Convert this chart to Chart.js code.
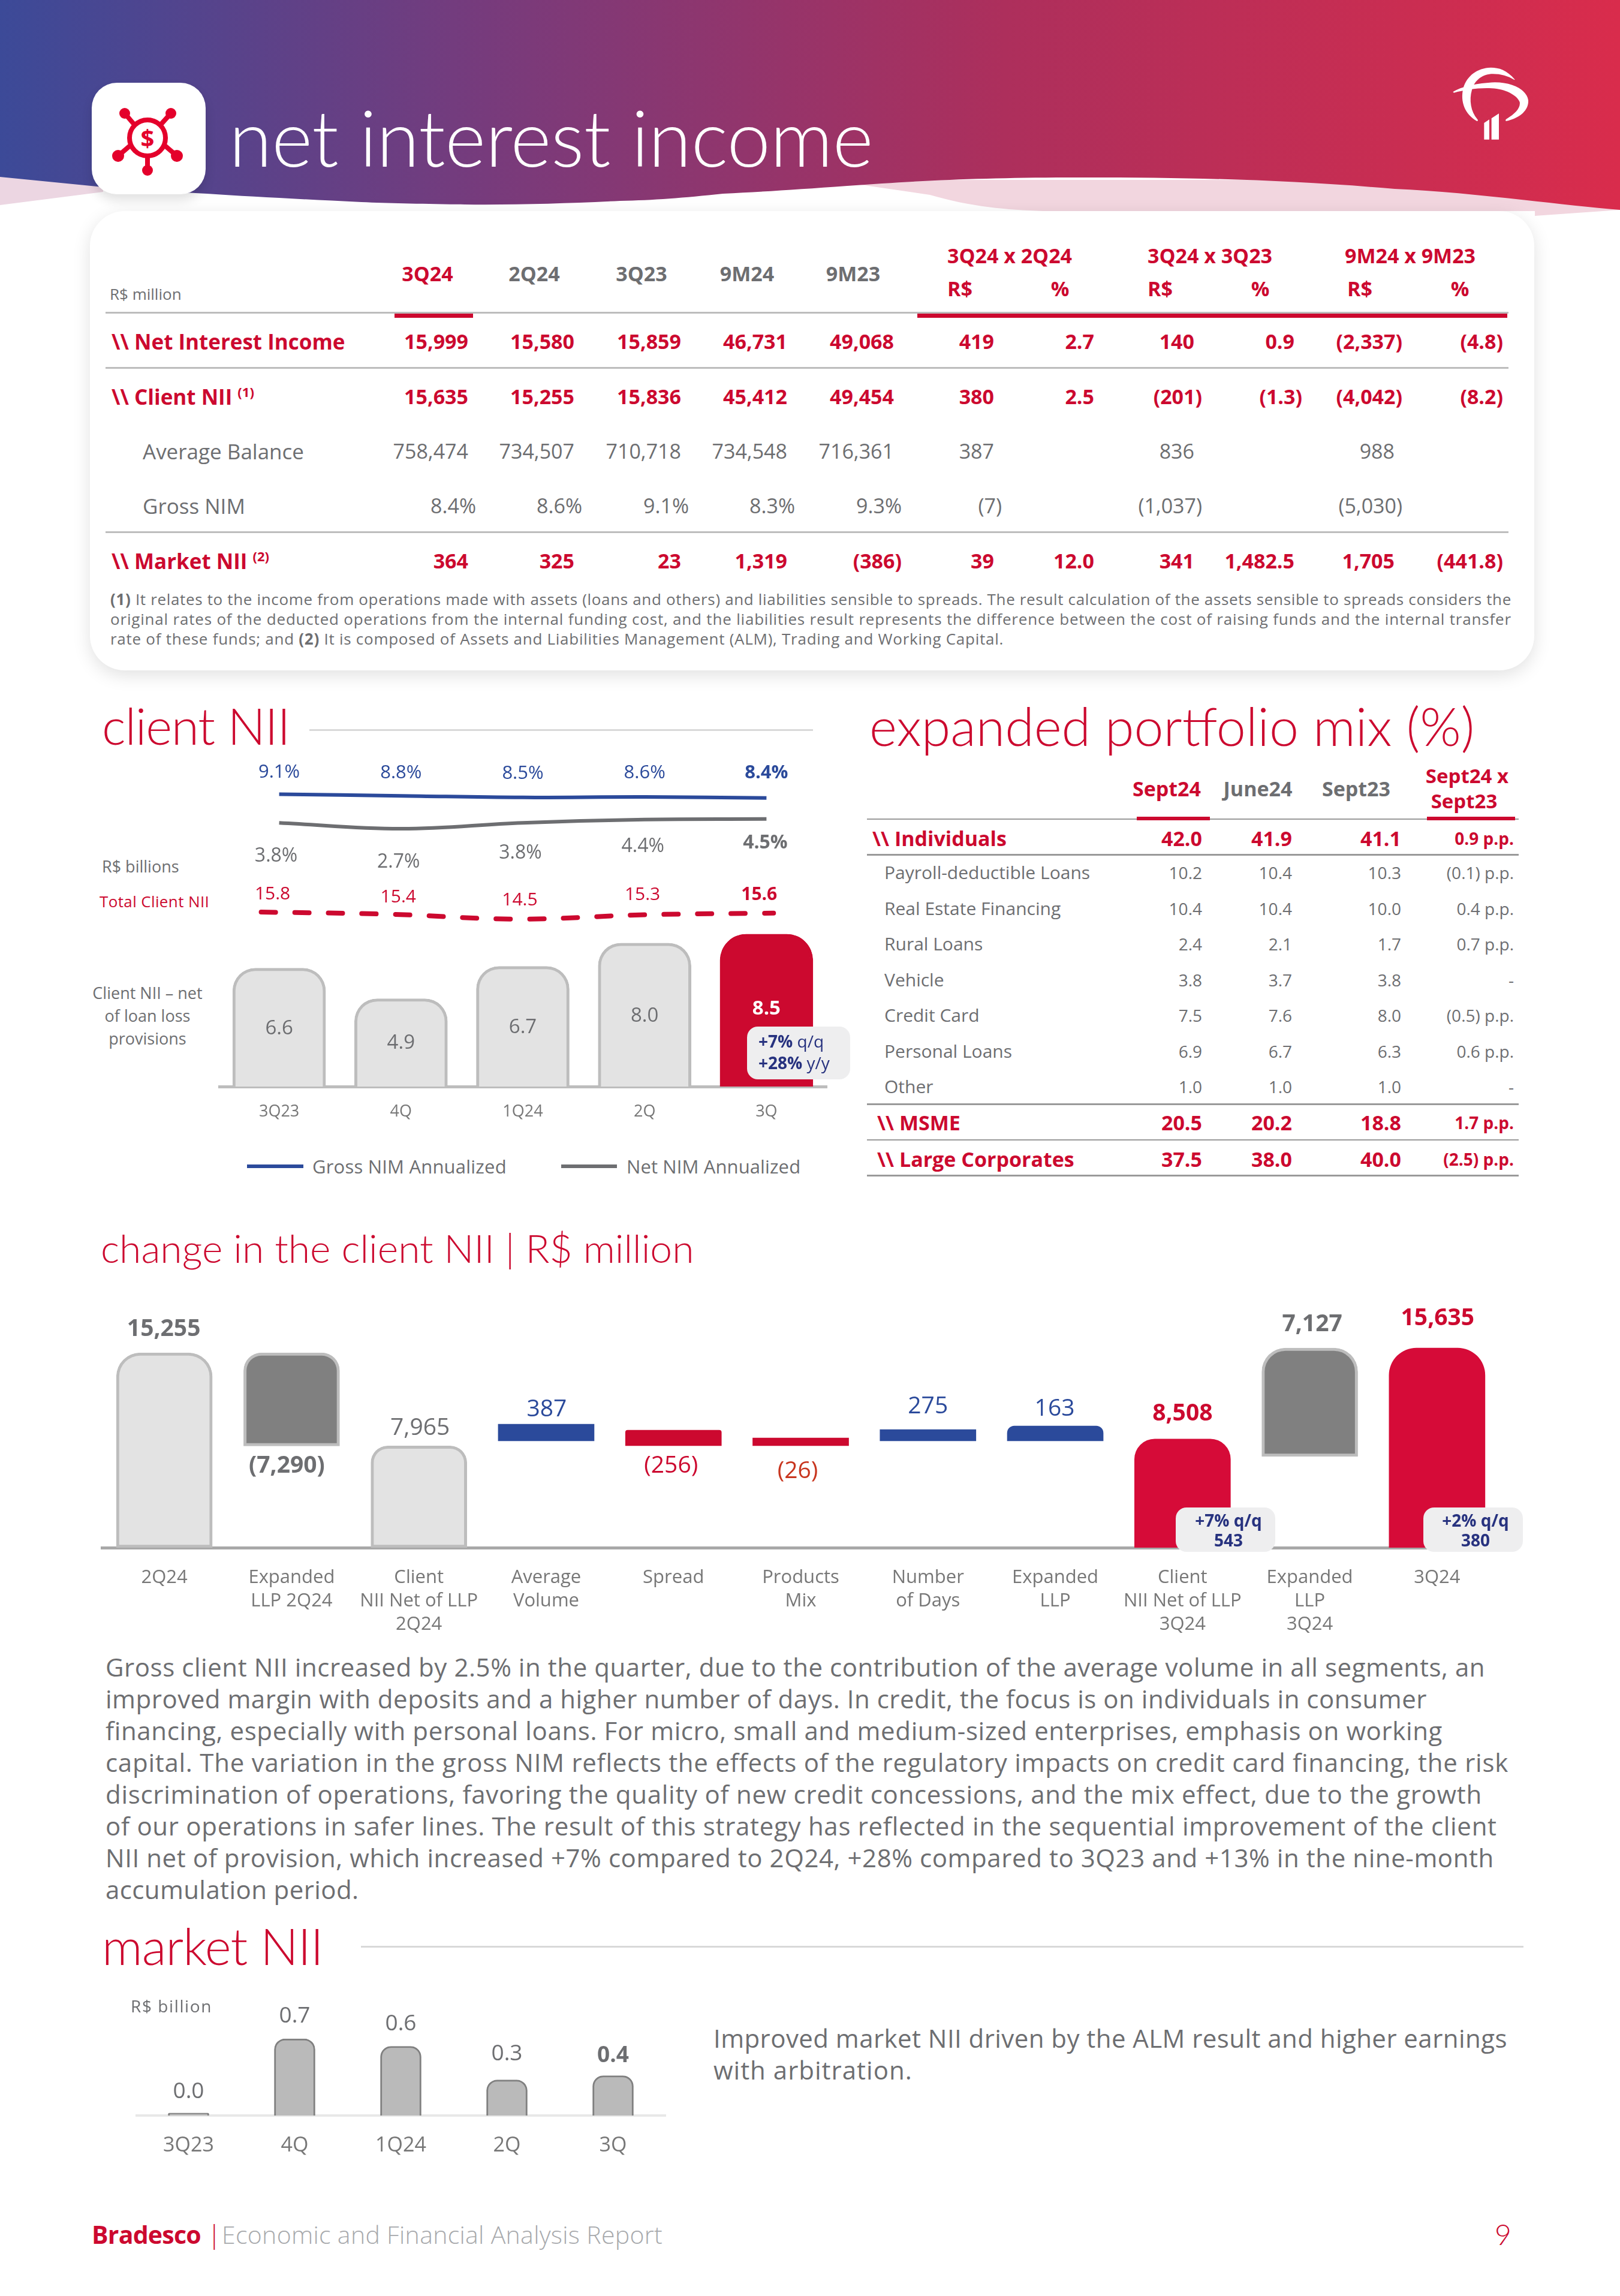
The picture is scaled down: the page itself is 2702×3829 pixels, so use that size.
<!DOCTYPE html>
<html>
<head>
<meta charset="utf-8">
<title>net interest income</title>
<script src="https://cdn.jsdelivr.net/npm/chart.js@4"></script>
<style>
  html, body { margin: 0; padding: 0; background: #fff; }
  #page { position: relative; width: 2702px; height: 3829px; overflow: hidden; background: #fff; font-family: "Open Sans", sans-serif; color: #6d6e71; }
  #page div.t { position: absolute; white-space: nowrap; line-height: 1; }
  canvas { position: absolute; }
  .card { position: absolute; left: 150px; top: 352px; width: 2409px; height: 766px; background: #fff; border-radius: 58px; box-shadow: 0 8px 30px rgba(0,0,0,0.12); }
  .rule { position: absolute; }
  .badge { position: absolute; background: #eeeeef; border-radius: 18px; }
</style>
</head>
<body>
<div id="page">
  <svg width="2702" height="400" style="position:absolute;left:0;top:0">
    <defs>
      <linearGradient id="hdr" x1="0" y1="0" x2="1" y2="0">
        <stop offset="0" stop-color="#3c4a98"/>
        <stop offset="0.3" stop-color="#773b7c"/>
        <stop offset="0.62" stop-color="#ad2f5c"/>
        <stop offset="1" stop-color="#d92c4c"/>
      </linearGradient>
    </defs>
    <path d="M0,290 L172,300 L172,320 L0,342 Z" fill="#ecd6e2"/>
    <path d="M1380,300 L1551,325 C1620,345 1680,350 1740,352 L2560,352 L2560,360 L2702,350 L2702,300 Z" fill="#f2d6df"/>
    <path d="M0,0 H2702 V350 C2600,342 2450,320 2326,315 C2150,300 2000,296 1809,296 C1650,296 1551,300 1413,310 C1330,316 1270,320 1206,323 C1140,330 1090,334 1034,335 C950,339 860,342 775,341 C700,340 650,339 603,337 C500,332 420,328 345,323 C280,320 220,316 172,312 L0,295 Z" fill="url(#hdr)"/>
  </svg>
  <div style="position:absolute;left:153px;top:138px;width:190px;height:186px;background:#fff;border-radius:42px;box-shadow:0 10px 18px rgba(0,0,0,0.12)"></div>
  <svg width="190" height="186" style="position:absolute;left:153px;top:138px" fill="none" stroke="#e4002b" stroke-width="8">
    <circle cx="93" cy="92" r="30"/>
    <path d="M93,122 V146 M72,71 L55,51 M114,71 L132,51 M65,104 L44,122 M121,104 L142,122"/>
    <g fill="#e4002b" stroke="none">
      <circle cx="55" cy="51" r="9"/><circle cx="132" cy="51" r="9"/>
      <circle cx="44" cy="122" r="10"/><circle cx="142" cy="122" r="10"/>
      <circle cx="93" cy="146" r="9"/>
    </g>
    <text x="93" y="107" text-anchor="middle" font-family="Open Sans" font-weight="700" font-size="40" fill="#e4002b" stroke="none">$</text>
  </svg>
  <svg width="170" height="170" viewBox="0 0 510 510" style="position:absolute;left:2400px;top:90px" fill="#fff">
    <path d="M380,128 C340,80 300,68 260,68 C190,70 140,110 122,170 C105,240 130,300 190,336 C196,336 196,330 192,326 C160,290 150,230 165,180 C178,130 220,100 270,100 C310,100 345,110 378,130 Z"/>
    <path d="M70,190 C110,165 190,145 280,142 C370,142 440,180 447,232 C450,285 400,322 335,336 C332,330 335,326 340,324 C380,300 410,270 404,240 C390,205 330,175 265,172 C200,168 130,180 75,194 Z"/>
    <path d="M226,428 V345 L252,328 V428 Z M263,428 V322 L300,298 V428 Z"/>
  </svg>
  <div class="card"></div>
  <canvas id="clientChart" style="left:364px;top:1250px"></canvas>
  <canvas id="waterfallChart" style="left:168px;top:2150px"></canvas>
  <canvas id="marketChart" style="left:226px;top:3340px"></canvas>
</div>
<script>
var page = document.getElementById("page");

// colours of the report
var RED = "#cc092f";
var BLUE = "#2b4a9b";
var GRAY = "#6d6e71";
var FONT = "Open Sans";
var TITLE_FONT = "Lato";

// main table
var mainCols = ["3Q24", "2Q24", "3Q23", "9M24", "9M23"];
var mainGroups = ["3Q24 x 2Q24", "3Q24 x 3Q23", "9M24 x 9M23"];
var netInterestIncome = ["15,999", "15,580", "15,859", "46,731", "49,068", "419", "2.7", "140", "0.9", "(2,337)", "(4.8)"];
var clientNiiRow = ["15,635", "15,255", "15,836", "45,412", "49,454", "380", "2.5", "(201)", "(1.3)", "(4,042)", "(8.2)"];
var averageBalance = ["758,474", "734,507", "710,718", "734,548", "716,361", "387", "", "836", "", "988", ""];
var grossNim = ["8.4%", "8.6%", "9.1%", "8.3%", "9.3%", "(7)", "", "(1,037)", "", "(5,030)", ""];
var marketNiiRow = ["364", "325", "23", "1,319", "(386)", "39", "12.0", "341", "1,482.5", "1,705", "(441.8)"];

// client NII chart
var clientQuarters = ["3Q23", "4Q", "1Q24", "2Q", "3Q"];
var clientNetOfProvisions = [6.6, 4.9, 6.7, 8.0, 8.5];
var grossNimAnnualized = [9.1, 8.8, 8.5, 8.6, 8.4];
var netNimAnnualized = [3.8, 2.7, 3.8, 4.4, 4.5];
var totalClientNii = [15.8, 15.4, 14.5, 15.3, 15.6];

// expanded portfolio mix
var mixCols = ["Sept24", "June24", "Sept23"];
var mixRows = [
  ["Individuals", "42.0", "41.9", "41.1", "0.9 p.p."],
  ["Payroll-deductible Loans", "10.2", "10.4", "10.3", "(0.1) p.p."],
  ["Real Estate Financing", "10.4", "10.4", "10.0", "0.4 p.p."],
  ["Rural Loans", "2.4", "2.1", "1.7", "0.7 p.p."],
  ["Vehicle", "3.8", "3.7", "3.8", "-"],
  ["Credit Card", "7.5", "7.6", "8.0", "(0.5) p.p."],
  ["Personal Loans", "6.9", "6.7", "6.3", "0.6 p.p."],
  ["Other", "1.0", "1.0", "1.0", "-"],
  ["MSME", "20.5", "20.2", "18.8", "1.7 p.p."],
  ["Large Corporates", "37.5", "38.0", "40.0", "(2.5) p.p."]
];

// change in the client NII. Printed values, and the range each bar covers
var bridgeCategories = [["2Q24"], ["Expanded", "LLP 2Q24"], ["Client", "NII Net of LLP", "2Q24"], ["Average", "Volume"], ["Spread"], ["Products", "Mix"], ["Number", "of Days"], ["Expanded", "LLP"], ["Client", "NII Net of LLP", "3Q24"], ["Expanded", "LLP", "3Q24"], ["3Q24"]];
var bridgePrinted = ["15,255", "(7,290)", "7,965", "387", "(256)", "(26)", "275", "163", "8,508", "7,127", "15,635"];
var bridgeFrom = [0, 7965, 0, 8357, 7981, 7981, 8357, 8357, 0, 7136, 0];
var bridgeTo = [15255, 15255, 7965, 9671, 9202, 8592, 9249, 9531, 8508, 15635, 15635];

// market NII
var marketQuarters = ["3Q23", "4Q", "1Q24", "2Q", "3Q"];
var marketNii = [0.023, 0.7, 0.632, 0.325, 0.364];

var paragraph = [
  "Gross client NII increased by 2.5% in the quarter, due to the contribution of the average volume in all segments, an",
  "improved margin with deposits and a higher number of days. In credit, the focus is on individuals in consumer",
  "financing, especially with personal loans. For micro, small and medium-sized enterprises, emphasis on working",
  "capital. The variation in the gross NIM reflects the effects of the regulatory impacts on credit card financing, the risk",
  "discrimination of operations, favoring the quality of new credit concessions, and the mix effect, due to the growth",
  "of our operations in safer lines. The result of this strategy has reflected in the sequential improvement of the client",
  "NII net of provision, which increased +7% compared to 2Q24, +28% compared to 3Q23 and +13% in the nine-month",
  "accumulation period."
];

// text helper. y is the middle of the line, align is left, center or right
function put(x, y, text, size, color, weight, align, fitWidth, family) {
  var d = document.createElement("div");
  d.className = "t";
  d.innerHTML = text;
  d.style.left = x + "px";
  d.style.top = y + "px";
  d.style.fontSize = size + "px";
  d.style.color = color || GRAY;
  d.style.fontWeight = weight || 400;
  if (family) d.style.fontFamily = family;
  var tx = align == "right" ? "-100%" : align == "center" ? "-50%" : "0";
  d.style.transform = "translate(" + tx + ",-50%)";
  page.appendChild(d);
  if (fitWidth) {
    var n = d.textContent.length;
    d.style.letterSpacing = ((fitWidth - d.offsetWidth) / n) + "px";
  }
  return d;
}

function rule(x1, x2, y, h, color) {
  var d = document.createElement("div");
  d.className = "rule";
  d.style.left = x1 + "px";
  d.style.width = (x2 - x1) + "px";
  d.style.top = y + "px";
  d.style.height = h + "px";
  d.style.background = color;
  page.appendChild(d);
}

// header
put(382, 228, "net interest income", 130, "#fff", 300, "left", 1074, TITLE_FONT);

// main table
put(183, 490, "R$ million", 26, GRAY, 400);
var mainHead = [713, 891, 1070, 1246, 1423];
mainCols.forEach(function (c, i) {
  put(mainHead[i], 456, c, 34, i == 0 ? RED : GRAY, 700, "center");
});
var groupCenter = [1684, 2018, 2352];
mainGroups.forEach(function (g, i) {
  put(groupCenter[i], 426, g, 34, RED, 700, "center");
});
[1601, 1935, 2268].forEach(function (x) { put(x, 481, "R$", 34, RED, 700, "center"); });
[1768, 2102, 2435].forEach(function (x) { put(x, 481, "%", 34, RED, 700, "center"); });

rule(176, 2516, 520, 3, "#bdbdbd");
rule(658, 789, 523, 7, RED);
rule(1530, 2514, 523, 7, RED);
rule(176, 2516, 612, 3, "#bdbdbd");
rule(176, 2516, 886, 3, "#bdbdbd");

var mainRight = [781, 958, 1136, 1313, 1491, 1658, 1825, 1992, 2159, 2326, 2494];
function mainRow(y, label, labelX, values, color, weight) {
  put(labelX, y, label, 35, color, weight);
  values.forEach(function (v, i) {
    var hang = /[)%]$/.test(v) ? 13 : 0;
    put(mainRight[i] + hang, y, v, 34, color, weight, "right");
  });
}
mainRow(569, "\\\\ Net Interest Income", 186, netInterestIncome, RED, 700);
mainRow(661, "\\\\ Client NII <sup style='font-size:22px;line-height:0'>(1)</sup>", 186, clientNiiRow, RED, 700);
mainRow(752, "Average Balance", 238, averageBalance, GRAY, 400);
mainRow(843, "Gross NIM", 238, grossNim, GRAY, 400);
mainRow(935, "\\\\ Market NII <sup style='font-size:22px;line-height:0'>(2)</sup>", 186, marketNiiRow, RED, 700);

put(184, 999, "<b>(1)</b> It relates to the income from operations made with assets (loans and others) and liabilities sensible to spreads. The result calculation of the assets sensible to spreads considers the", 26, GRAY, 400, "left", 2337);
put(184, 1032, "original rates of the deducted operations from the internal funding cost, and the liabilities result represents the difference between the cost of raising funds and the internal transfer", 26, GRAY, 400, "left", 2337);
put(184, 1065, "rate of these funds; and <b>(2)</b> It is composed of Assets and Liabilities Management (ALM), Trading and Working Capital.", 26, GRAY, 400, "left", 1490);

// client NII texts
put(170, 1210, "client NII", 84, RED, 300, "left", 313, TITLE_FONT);
rule(516, 1356, 1216, 3, "#d9d9d9");
put(170, 1444, "R$ billions", 27, GRAY, 400, "left", 129);
put(166, 1503, "Total Client NII", 26, RED, 400, "left", 183);
put(246, 1655, "Client NII – net", 27, GRAY, 400, "center");
put(246, 1693, "of loan loss", 27, GRAY, 400, "center");
put(246, 1731, "provisions", 27, GRAY, 400, "center");

// legend of the client chart
rule(412, 506, 1942, 6, BLUE);
put(521, 1945, "Gross NIM Annualized", 31, GRAY, 400, "left", 324);
rule(936, 1029, 1942, 6, GRAY);
put(1045, 1945, "Net NIM Annualized", 31, GRAY, 400, "left", 290);

// expanded portfolio mix
put(1450, 1210, "expanded portfolio mix (%)", 88, RED, 300, "left", 1010, TITLE_FONT);
var mixHead = [1946, 2098, 2262];
mixCols.forEach(function (c, i) {
  put(mixHead[i], 1315, c, 34, i == 0 ? RED : GRAY, 700, "center");
});
put(2447, 1293, "Sept24 x", 33, RED, 700, "center");
put(2442, 1335, "Sept23", 33, RED, 700, "center");
rule(1446, 2533, 1365, 2, "#9a9a9a");
rule(1896, 2018, 1362, 6, RED);
rule(2380, 2527, 1362, 6, RED);
rule(1446, 2533, 1424, 3, "#9a9a9a");
rule(1446, 2533, 1840, 3, "#9a9a9a");
rule(1446, 2533, 1900, 2, "#9a9a9a");
rule(1446, 2533, 1959, 3, "#9a9a9a");

var mixY = [1398, 1455, 1515, 1574, 1634, 1693, 1753, 1812, 1872, 1933];
var mixRight = [2005, 2155, 2337, 2525];
mixRows.forEach(function (r, i) {
  var main = i == 0 || i >= 8;
  if (main) {
    put(i == 0 ? 1455 : 1463, mixY[i], "\\\\ " + r[0], 34, RED, 700);
  } else {
    put(1475, mixY[i], r[0], 30, GRAY, 400);
  }
  for (var c = 0; c < 4; c++) {
    var sz = main ? (c == 3 ? 28 : 34) : 28;
    put(mixRight[c], mixY[i], r[c + 1], sz, main ? RED : GRAY, main ? 700 : 400, "right");
  }
});

// bridge texts
put(168, 2081, "change in the client NII | R$ million", 66, RED, 300, "left", 989, TITLE_FONT);

paragraph.forEach(function (line, i) {
  var ends = [2477, 2380, 2406, 2516, 2472, 2497, 2492, 598];
  put(176, 2780 + i * 53, line, 42, GRAY, 400, "left", ends[i] - 176);
});

// market NII texts
put(170, 3245, "market NII", 84, RED, 300, "left", 369, TITLE_FONT);
rule(602, 2541, 3245, 3, "#d9d9d9");
put(218, 3345, "R$ billion", 28, GRAY, 400, "left", 136);
put(1190, 3399, "Improved market NII driven by the ALM result and higher earnings", 42, GRAY, 400, "left", 1324);
put(1190, 3452, "with arbitration.", 42, GRAY, 400, "left", 332);

// footer
put(153, 3726, "Bradesco", 41, RED, 700, "left", 182);
put(346, 3726, "|", 42, RED, 300);
put(370, 3726, "Economic and Financial Analysis Report", 41, "#a7a9ac", 300, "left", 735);
put(2507, 3726, "9", 48, RED, 300, "center", 0, TITLE_FONT);

// value labels, one list per chart
function valueLabels(id, lists) {
  return {
    id: id,
    afterDatasetsDraw: function (chart) {
      var ctx = chart.ctx;
      ctx.save();
      ctx.textAlign = "center";
      ctx.textBaseline = "middle";
      lists.forEach(function (l) {
        chart.getDatasetMeta(l.dataset).data.forEach(function (el, i) {
          var y = el.y - l.up[i];
          if (l.mid) y = (el.y + el.base) / 2 + l.up[i];
          else if (l.up[i] < 0 && el.base !== undefined) y = el.base - l.up[i];
          var w = l.weight ? l.weight[i] : 400;
          ctx.font = w + " " + (l.size || 30) + "px '" + FONT + "'";
          ctx.fillStyle = l.color[i];
          ctx.fillText(l.text[i], el.x + (l.dx ? l.dx[i] : 0), y);
        });
      });
      ctx.restore();
    }
  };
}

function topRadius(r) {
  return function (ctx) {
    var v = r[ctx.dataIndex];
    return { topLeft: v, topRight: v, bottomLeft: 0, bottomRight: 0 };
  };
}

function fixedAxisHeight(h) {
  return function (scale) { scale.height = h; };
}

function sizeCanvas(id, w, h) {
  var c = document.getElementById(id);
  c.width = w;
  c.height = h;
  c.style.width = w + "px";
  c.style.height = h + "px";
  return c;
}

Chart.defaults.font.family = FONT;
Chart.defaults.animation = false;

var ctx1 = sizeCanvas("clientChart", 1016, 630);
new Chart(ctx1, {
  type: "bar",
  data: {
    labels: clientQuarters,
    datasets: [{
      type: "line",
      label: "Gross NIM Annualized",
      data: grossNimAnnualized,
      yAxisID: "yPct",
      borderColor: BLUE,
      borderWidth: 6,
      pointRadius: 0,
      tension: 0.4,
      order: 1
    }, {
      type: "line",
      label: "Net NIM Annualized",
      data: netNimAnnualized,
      yAxisID: "yPct",
      borderColor: GRAY,
      borderWidth: 6,
      pointRadius: 0,
      tension: 0.4,
      order: 1
    }, {
      type: "line",
      label: "Total Client NII",
      data: totalClientNii.map(function (v, i) { return { x: i, y: v }; }),
      xAxisID: "xTotal",
      yAxisID: "yTotal",
      borderColor: RED,
      borderWidth: 8,
      borderDash: [24, 32],
      borderCapStyle: "round",
      pointRadius: 0,
      tension: 0.4,
      order: 1
    }, {
      type: "bar",
      label: "Client NII - net of loan loss provisions",
      data: clientNetOfProvisions,
      yAxisID: "y",
      backgroundColor: ["#e3e3e3", "#e3e3e3", "#e3e3e3", "#e3e3e3", RED],
      borderColor: ["#bdbdbd", "#bdbdbd", "#bdbdbd", "#bdbdbd", RED],
      borderWidth: 5,
      borderRadius: topRadius([38, 38, 38, 38, 44]),
      grouped: false,
      barThickness: 155,
      maxBarThickness: 155,
      order: 2
    }]
  },
  options: {
    responsive: false,
    maintainAspectRatio: false,
    layout: { padding: 0 },
    plugins: { legend: { display: false }, tooltip: { enabled: false } },
    scales: {
      x: {
        offset: true,
        grid: { display: false, drawTicks: false, offset: true },
        border: { display: true, color: "#bdbdbd", width: 5 },
        ticks: { color: "#777", font: { size: 27 }, padding: 26 },
        afterFit: fixedAxisHeight(68)
      },
      xTotal: { type: "linear", display: false, offset: false, min: -0.335, max: 4.42 },
      y: { display: false, min: 0, max: 18.796 },
      yPct: { display: false, min: -45.07, max: 17.37 },
      yTotal: { display: false, min: -16.53, max: 45.91 }
    }
  },
  plugins: [valueLabels("clientLabels", [
    { dataset: 0, text: grossNimAnnualized.map(function (v) { return v.toFixed(1) + "%"; }), up: [36, 38, 40, 40, 42], color: [BLUE, BLUE, BLUE, BLUE, BLUE], weight: [400, 400, 400, 400, 700], size: 31 },
    { dataset: 1, text: netNimAnnualized.map(function (v) { return v.toFixed(1) + "%"; }), up: [-56, -56, -51, -45, -40], color: [GRAY, GRAY, GRAY, GRAY, GRAY], weight: [400, 400, 400, 400, 700], size: 32, dx: [-5, -4, -4, -3, -2] },
    { dataset: 2, text: totalClientNii.map(function (v) { return v.toFixed(1); }), up: [30, 28, 31, 33, 30], dx: [19, 15, 4, -5, -24], color: [RED, RED, RED, RED, RED], weight: [400, 400, 400, 400, 700], size: 30 },
    { dataset: 3, text: clientNetOfProvisions.map(function (v) { return v.toFixed(1); }), up: [2, 1, 2, 2, -2], mid: true, color: [GRAY, GRAY, GRAY, GRAY, "#fff"], weight: [400, 400, 400, 400, 700], size: 33 }
  ])]
});

var ctx2 = sizeCanvas("waterfallChart", 2335, 600);
var bridgeFill = ["#e3e3e3", "#808080", "#e3e3e3", BLUE, RED, RED, BLUE, BLUE, "#d60b38", "#808080", "#d60b38"];
var bridgeLine = ["#bdbdbd", "#bdbdbd", "#bdbdbd", BLUE, RED, RED, BLUE, BLUE, "#d60b38", "#bdbdbd", "#d60b38"];
new Chart(ctx2, {
  type: "bar",
  data: {
    labels: bridgeCategories,
    datasets: [{
      label: "change in the client NII",
      data: bridgeFrom.map(function (v, i) { return [v, bridgeTo[i]]; }),
      backgroundColor: bridgeFill,
      borderColor: bridgeLine,
      borderWidth: [5, 5, 5, 0, 0, 0, 0, 0, 0, 5, 0],
      borderSkipped: false,
      borderRadius: topRadius([40, 30, 28, 0, 4, 0, 0, 12, 34, 40, 46]),
      barThickness: 160
    }]
  },
  options: {
    responsive: false,
    maintainAspectRatio: false,
    layout: { padding: 0 },
    plugins: { legend: { display: false }, tooltip: { enabled: false } },
    scales: {
      x: {
        grid: { display: false, drawTicks: false },
        border: { display: true, color: "#a8a8a8", width: 5 },
        ticks: { color: "#777", font: { size: 31, lineHeight: 1.26 }, padding: 31, autoSkip: false, maxRotation: 0 },
        afterFit: fixedAxisHeight(169)
      },
      y: { display: false, min: 0, max: 20235 }
    }
  },
  plugins: [valueLabels("bridgeLabels", [
    { dataset: 0, text: bridgePrinted, up: [39, -34, 29, 24, -34, -43, 38, 28, 42, 39, 49],
      dx: [-1, -8, 2, 1, -4, -5, 0, -1, 0, 4, 1],
      color: [GRAY, GRAY, GRAY, BLUE, RED, "#c8361f", BLUE, BLUE, RED, GRAY, RED],
      weight: [700, 700, 400, 400, 400, 400, 400, 400, 700, 700, 700], size: 39 }
  ])]
});

var ctx3 = sizeCanvas("marketChart", 885, 280);
new Chart(ctx3, {
  type: "bar",
  data: {
    labels: marketQuarters,
    datasets: [{
      label: "market NII",
      data: marketNii,
      backgroundColor: "#bababa",
      borderColor: "#808080",
      borderWidth: 3,
      borderRadius: topRadius([4, 18, 18, 18, 18]),
      barThickness: 68
    }]
  },
  options: {
    responsive: false,
    maintainAspectRatio: false,
    layout: { padding: 0 },
    plugins: { legend: { display: false }, tooltip: { enabled: false } },
    scales: {
      x: {
        grid: { display: false, drawTicks: false },
        border: { display: true, color: "#e8e8e8", width: 4 },
        ticks: { color: "#777", font: { size: 34 }, padding: 30 },
        afterFit: fixedAxisHeight(92)
      },
      y: { display: false, min: 0, max: 1.029 }
    }
  },
  plugins: [valueLabels("marketLabels", [
    { dataset: 0, text: marketNii.map(function (v) { return v.toFixed(1); }), up: [35, 38, 37, 43, 33],
      color: [GRAY, GRAY, GRAY, GRAY, GRAY], weight: [400, 400, 400, 400, 700], size: 37 }
  ])]
});

// badges sit on top of the charts
function badge(x, y, w, h) {
  var d = document.createElement("div");
  d.className = "badge";
  d.style.left = x + "px";
  d.style.top = y + "px";
  d.style.width = w + "px";
  d.style.height = h + "px";
  page.appendChild(d);
}
var NAVY = "#27327f";
badge(1246, 1712, 172, 88);
put(1265, 1736, "<b>+7%</b> <span style='font-weight:400'>q/q</span>", 28, NAVY);
put(1265, 1772, "<b>+28%</b> <span style='font-weight:400'>y/y</span>", 28, NAVY);
badge(1961, 2514, 166, 74);
put(2049, 2535, "+7% q/q", 28, NAVY, 700, "center");
put(2049, 2568, "543", 28, NAVY, 700, "center");
badge(2374, 2514, 166, 74);
put(2461, 2535, "+2% q/q", 28, NAVY, 700, "center");
put(2461, 2568, "380", 28, NAVY, 700, "center");
</script>
</body>
</html>
